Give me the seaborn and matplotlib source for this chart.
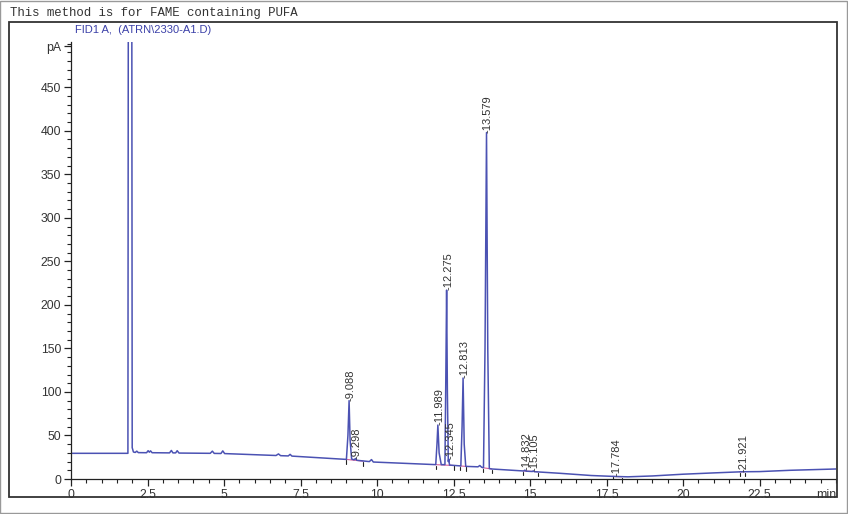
import numpy as np
import pandas as pd
import matplotlib
matplotlib.use("Agg")
import matplotlib.pyplot as plt
from matplotlib.patches import Rectangle
from matplotlib.ticker import MultipleLocator
import seaborn as sns

# ---- data ----
time_min = [0, 1.86, 1.875, 1.985, 2.00, 2.04, 2.10, 2.15, 2.20, 2.47, 2.52, 2.56, 2.60, 2.65,
            3.22, 3.28, 3.33, 3.42, 3.47, 3.53, 4.55, 4.62, 4.68, 4.90, 4.96, 5.02,
            6.70, 6.78, 6.85, 7.10, 7.16, 7.22, 9.00, 9.05, 9.088, 9.12, 9.17, 9.25, 9.298, 9.34,
            9.75, 9.82, 9.88, 11.92, 11.96, 11.989, 12.03, 12.10, 12.22, 12.25, 12.275, 12.30,
            12.33, 12.345, 12.37, 12.74, 12.78, 12.813, 12.85, 12.90, 13.30, 13.36, 13.42, 13.48,
            13.53, 13.579, 13.62, 13.67, 13.75, 14.80, 14.832, 14.87, 15.08, 15.105, 15.14,
            16.0, 17.0, 17.784, 18.2, 19.0, 20.0, 21.0, 21.921, 22.5, 23.5, 25.0]
signal_pA = [29.5, 29.5, 640, 640, 36, 31, 30.5, 32, 30.3, 30.2, 32.5, 30.8, 32.3, 30.2,
             30, 32.8, 30, 30, 32.5, 29.8, 29.5, 32, 29.4, 29.3, 32.3, 29.2,
             27, 28.8, 26.8, 26.5, 28.3, 26.3, 22.5, 50, 90, 45, 23, 22, 23.5, 21.5,
             20, 22.3, 19.5, 16.5, 40, 62, 30, 16.5, 16.5, 120, 217, 100,
             20, 23, 16, 15, 60, 116, 40, 14.5, 14, 15.5, 13.5, 13,
             150, 398, 150, 12, 11.5, 9.2, 10.2, 9.0, 8.6, 9.4, 8.4,
             6.5, 4, 2.9, 2.5, 3.5, 5.5, 7, 8.3, 8.5, 10, 11.5]

peak_labels = ["9.088", "9.298", "11.989", "12.275", "12.345", "12.813", "13.579",
               "14.832", "15.105", "17.784", "21.921"]
peak_times = [9.088, 9.298, 11.989, 12.275, 12.345, 12.813, 13.579, 14.832, 15.105, 17.784, 21.921]
peak_tops = [90, 23.5, 62, 217, 23, 116, 398, 10.2, 9.4, 2.9, 8.3]

x_tick_labels = ["0", "2.5", "5", "7.5", "10", "12.5", "15", "17.5", "20", "22.5"]
y_tick_labels = ["0", "50", "100", "150", "200", "250", "300", "350", "400", "450"]

# integration baselines (start, end, start value, end value)
base_start = [9.00, 11.92, 12.72, 13.45, 14.78, 17.70, 21.85]
base_end = [9.55, 12.50, 12.90, 13.75, 15.25, 18.00, 22.02]
base_v0 = [22.5, 16.5, 15.0, 13.0, 9.2, 3.0, 8.2]
base_v1 = [20.5, 15.5, 14.5, 11.5, 8.4, 2.6, 8.4]

LINE = "#4b52b3"
TXT = "#333333"

sns.set_style("ticks")
plt.rcParams["font.family"] = ["Liberation Sans", "DejaVu Sans"]

fig = plt.figure(figsize=(8.48, 5.14), dpi=100)
ax = fig.add_axes([71 / 848, 1 - 479 / 514, (836 - 71) / 848, (479 - 42) / 514])

df = pd.DataFrame({"time": time_min, "signal": signal_pA})
sns.lineplot(data=df, x="time", y="signal", ax=ax, color=LINE, linewidth=1.1,
             sort=False, estimator=None)

for s, e, v0, v1 in zip(base_start, base_end, base_v0, base_v1):
    ax.plot([s, e], [v0, v1], color="#d8609a", linewidth=0.8, zorder=1)
    ax.plot([s, s], [v0 - 1, v0 - 5], color="#222222", linewidth=0.8)
    ax.plot([e, e], [v1 - 1, v1 - 5], color="#222222", linewidth=0.8)

for lab, t, h in zip(peak_labels, peak_times, peak_tops):
    ax.annotate("-" + lab, xy=(t, h), xytext=(1, 0), textcoords="offset points",
                rotation=90, ha="center", va="bottom", fontsize=8, color=TXT)

ax.set_xlim(0, 25)
ax.set_ylim(0, 502)
ax.set_xticks([0, 2.5, 5, 7.5, 10, 12.5, 15, 17.5, 20, 22.5])
ax.set_xticklabels(x_tick_labels)
ax.xaxis.set_minor_locator(MultipleLocator(0.5))
ax.set_yticks([0, 50, 100, 150, 200, 250, 300, 350, 400, 450, 497])
ax.set_yticklabels(y_tick_labels + ["pA"])
ax.yaxis.set_minor_locator(MultipleLocator(10))
ax.tick_params(axis="both", which="major", length=5, width=0.9, colors="#222222",
               labelsize=8.8, labelcolor=TXT, pad=2)
ax.tick_params(axis="both", which="minor", length=3, width=0.8, colors="#222222")
ax.set_xlabel("")
ax.set_ylabel("")
for side in ["top", "right"]:
    ax.spines[side].set_visible(False)
for side in ["left", "bottom"]:
    ax.spines[side].set_color("#222222")
    ax.spines[side].set_linewidth(0.9)

ax.annotate("min", xy=(25, 0), xytext=(0, -7), textcoords="offset points",
            ha="right", va="top", fontsize=8.8, color=TXT)

fig.text(10 / 848, 1 - 13 / 514, "This method is for FAME containing PUFA",
         family=["Liberation Mono", "DejaVu Sans Mono"], fontsize=8.9, color=TXT,
         ha="left", va="center")
fig.text(75 / 848, 1 - 30 / 514, "FID1 A,  (ATRN\\2330-A1.D)", fontsize=8,
         color="#3b40a8", ha="left", va="center")

fig.patches.append(Rectangle((9 / 848, 1 - 497 / 514), (837 - 9) / 848, (497 - 22) / 514,
                             transform=fig.transFigure, fill=False, edgecolor="#333333",
                             linewidth=1.3))
fig.patches.append(Rectangle((0.0005, 0.001), 0.998, 0.997, transform=fig.transFigure,
                             fill=False, edgecolor="#999999", linewidth=1))

fig.savefig("out.png", dpi=100)
